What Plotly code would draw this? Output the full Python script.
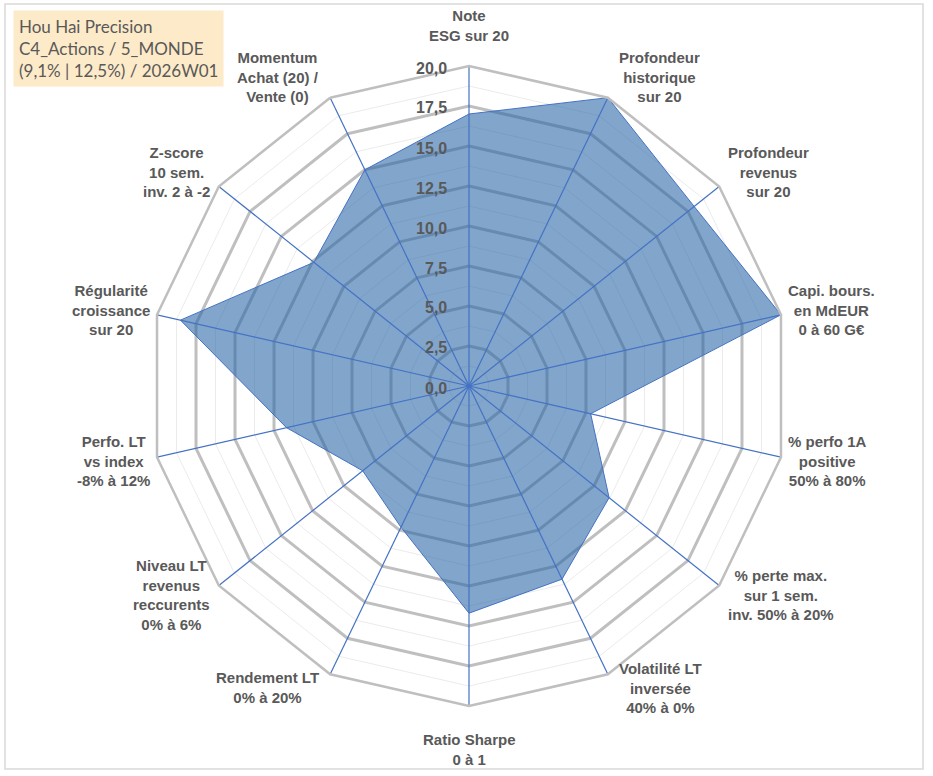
"""
Radar de notation (14 critères) pour Hou Hai Precision, semaine 2026W01.
"""
import numpy as np
import plotly.graph_objects as go

# =============================================================================
# DONNÉES
# =============================================================================
TITRE = ["Hou Hai Precision", "C4_Actions / 5_MONDE", "(9,1% | 12,5%) / 2026W01"]

CRITERES = [
    "Note<br>ESG sur 20",
    "Profondeur<br>historique<br>sur 20",
    "Profondeur<br>revenus<br>sur 20",
    "Capi. bours.<br>en MdEUR<br>0 à 60 G€",
    "% perfo 1A<br>positive<br>50% à 80%",
    "% perte max.<br>sur 1 sem.<br>inv. 50% à 20%",
    "Volatilité LT<br>inversée<br>40% à 0%",
    "Ratio Sharpe<br>0 à 1",
    "Rendement LT<br>0% à 20%",
    "Niveau LT<br>revenus<br>reccurents<br>0% à 6%",
    "Perfo. LT<br>vs index<br>-8% à 12%",
    "Régularité<br>croissance<br>sur 20",
    "Z-score<br>10 sem.<br>inv. 2 à -2",
    "Momentum<br>Achat (20) /<br>Vente (0)",
]

NOTES = [17.0, 20.0, 18.0, 20.0, 7.8, 11.2, 13.4, 14.2, 9.8, 8.5, 11.7, 18.5, 12.4, 15.0]

R_MAX = 20
PAS = 2.5

# =============================================================================
# MISE EN PAGE
# =============================================================================
LARGEUR, HAUTEUR = 933, 776
CX, CY, RAYON = 469, 386, 320   # centre et rayon du radar en pixels
RX_LIB, RY_LIB = 312, 327       # ellipse de référence pour placer les libellés

GRIS_TEXTE = "#595959"
GRIS_GRILLE = "#bfbfbf"
BLEU = "#4472c4"
POLICE = "Liberation Sans, Arial, sans-serif"


def px_vers_paper(x, y):
    return x / LARGEUR, 1 - y / HAUTEUR


ids = [f"c{i}" for i in range(len(CRITERES))]
boucle = ids + ids[:1]

fig = go.Figure()

# grille secondaire (entre les graduations principales)
for r in np.arange(PAS / 2, R_MAX, PAS):
    fig.add_trace(go.Scatterpolar(
        r=[r] * len(boucle), theta=boucle, mode="lines",
        line=dict(color="#ebebeb", width=1),
        hoverinfo="skip", showlegend=False,
    ))

fig.add_trace(go.Scatterpolar(
    r=NOTES + NOTES[:1],
    theta=boucle,
    mode="lines",
    fill="toself",
    fillcolor="rgba(40,100,165,0.58)",
    line=dict(color=BLEU, width=1),
    showlegend=False,
))

# rayons bleus au-dessus du remplissage
for c in ids:
    fig.add_trace(go.Scatterpolar(
        r=[0, R_MAX], theta=[c, c], mode="lines",
        line=dict(color=BLEU, width=1.2),
        hoverinfo="skip", showlegend=False,
    ))

x0, y1 = px_vers_paper(CX - RAYON, CY - RAYON)
x1, y0 = px_vers_paper(CX + RAYON, CY + RAYON)

fig.update_layout(
    width=LARGEUR,
    height=HAUTEUR,
    paper_bgcolor="white",
    plot_bgcolor="white",
    margin=dict(l=0, r=0, t=0, b=0),
    separators=", ",
    font=dict(family=POLICE, color=GRIS_TEXTE),
    polar=dict(
        domain=dict(x=[x0, x1], y=[y0, y1]),
        bgcolor="white",
        gridshape="linear",
        radialaxis=dict(
            range=[0, R_MAX],
            dtick=PAS,
            tick0=0,
            showticklabels=False,
            showline=False,
            ticks="",
            gridcolor=GRIS_GRILLE,
            gridwidth=2.5,
        ),
        angularaxis=dict(
            direction="clockwise",
            rotation=90,
            type="category",
            categoryarray=ids,
            showticklabels=False,
            ticks="",
            showgrid=False,
            showline=True,
            linecolor=GRIS_GRILLE,
            linewidth=2.5,
        ),
    ),
)

# graduations de l'axe radial (à gauche du rayon vertical)
for v in np.arange(0, R_MAX + PAS / 2, PAS):
    xp, yp = px_vers_paper(CX - 20, CY - v / R_MAX * RAYON + 2)
    fig.add_annotation(
        x=xp, y=yp, xref="paper", yref="paper",
        text=f"<b>{v:.1f}</b>".replace(".", ","), showarrow=False,
        xanchor="right", yanchor="middle",
        font=dict(size=16, color=GRIS_TEXTE, family=POLICE),
    )

# libellés des critères autour du radar
n = len(CRITERES)
for i, txt in enumerate(CRITERES):
    a = np.radians(i * 360 / n)
    s, c = np.sin(a), np.cos(a)
    vx, vy = CX + RX_LIB * s, CY - RY_LIB * c
    if abs(s) < 0.1:
        xa, lx = "center", vx
        if c > 0:
            ya, ly = "bottom", vy - 13
        else:
            ya, ly = "top", vy + 16
    else:
        xa = "left" if s > 0 else "right"
        lx = vx + (13 if s > 0 else -13)
        ya = "middle"
        ly = vy - (16 * c if c > 0 else 8 * c)
    xp, yp = px_vers_paper(lx, ly)
    fig.add_annotation(
        x=xp, y=yp, xref="paper", yref="paper",
        text=f"<b>{txt}</b>", showarrow=False, align="center",
        xanchor=xa, yanchor=ya,
        font=dict(size=15, color=GRIS_TEXTE, family=POLICE),
    )

# encadré titre
xp, yp = px_vers_paper(13, 10)
fig.add_annotation(
    x=xp, y=yp, xref="paper", yref="paper",
    xanchor="left", yanchor="top", align="left", showarrow=False,
    text="<br>".join(TITRE),
    font=dict(family="Lato, sans-serif", size=17, color=GRIS_TEXTE),
    bgcolor="#fdeac8", borderpad=5,
)

# cadre du graphique
fig.add_shape(type="rect", xref="paper", yref="paper",
              x0=5 / LARGEUR, x1=1 - 10 / LARGEUR, y0=7 / HAUTEUR, y1=1 - 4 / HAUTEUR,
              line=dict(color="#d9d9d9", width=1.5))

fig.write_html("out.html", config={"displayModeBar": False},
               post_script="document.body.style.margin='0';")
